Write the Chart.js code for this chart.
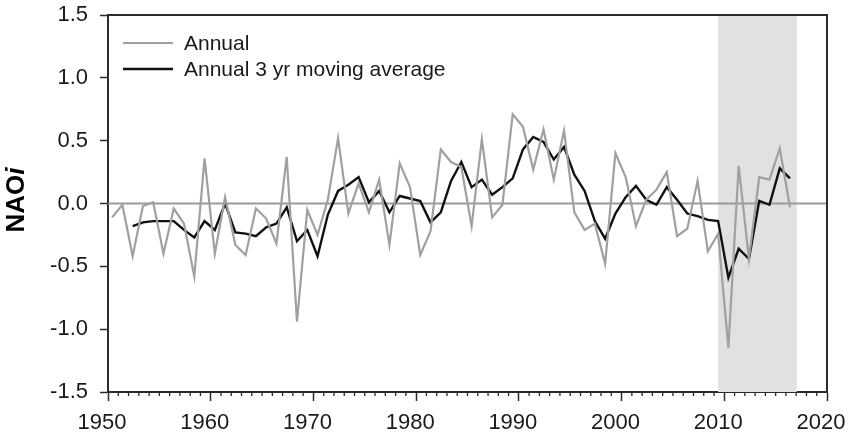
<!DOCTYPE html>
<html>
<head>
<meta charset="utf-8">
<script src="https://cdn.jsdelivr.net/npm/chart.js@4/dist/chart.umd.min.js"></script>
<style>
  body { margin: 0; background: #fff; }
  canvas { display: block; }
</style>
</head>
<body>
<canvas id="naoChart" width="850" height="442"></canvas>
<script>
// DATA
const years = [
  1950, 1951, 1952, 1953, 1954, 1955, 1956, 1957, 1958, 1959,
  1960, 1961, 1962, 1963, 1964, 1965, 1966, 1967, 1968, 1969,
  1970, 1971, 1972, 1973, 1974, 1975, 1976, 1977, 1978, 1979,
  1980, 1981, 1982, 1983, 1984, 1985, 1986, 1987, 1988, 1989,
  1990, 1991, 1992, 1993, 1994, 1995, 1996, 1997, 1998, 1999,
  2000, 2001, 2002, 2003, 2004, 2005, 2006, 2007, 2008, 2009,
  2010, 2011, 2012, 2013, 2014, 2015, 2016
];
const annual = [
  -0.11, -0.01, -0.42, -0.02, 0.01, -0.40, -0.04, -0.16, -0.58, 0.36,
  -0.40, 0.05, -0.33, -0.41, -0.04, -0.12, -0.32, 0.37, -0.94, -0.05,
  -0.25, 0.03, 0.52, -0.08, 0.16, -0.07, 0.19, -0.33, 0.32, 0.13,
  -0.41, -0.22, 0.43, 0.33, 0.29, -0.18, 0.51, -0.11, -0.01, 0.71,
  0.61, 0.27, 0.59, 0.19, 0.58, -0.07, -0.21, -0.16, -0.48, 0.40,
  0.21, -0.18, 0.03, 0.11, 0.25, -0.26, -0.20, 0.18, -0.38, -0.24,
  -1.15, 0.30, -0.44, 0.21, 0.19, 0.44, -0.03
];
const movingAvg = [
  null, null, -0.18, -0.15, -0.14, -0.14, -0.14, -0.21, -0.27, -0.14,
  -0.21, 0.00, -0.23, -0.24, -0.26, -0.19, -0.16, -0.03, -0.30, -0.21,
  -0.42, -0.09, 0.10, 0.15, 0.21, 0.01, 0.10, -0.07, 0.06, 0.04,
  0.02, -0.15, -0.07, 0.18, 0.33, 0.13, 0.19, 0.07, 0.13, 0.20,
  0.43, 0.53, 0.49, 0.35, 0.45, 0.23, 0.10, -0.14, -0.28, -0.08,
  0.05, 0.14, 0.03, -0.01, 0.13, 0.03, -0.08, -0.10, -0.13, -0.14,
  -0.59, -0.36, -0.44, 0.02, -0.01, 0.28, 0.20
];
const xTicks = [1950, 1960, 1970, 1980, 1990, 2000, 2010, 2020];
const yTicks = [-1.5, -1.0, -0.5, 0.0, 0.5, 1.0, 1.5];
const shadeYears = [2009.4, 2017.05];
const seriesLabels = ["Annual", "Annual 3 yr moving average"];

// points sit a little past the year tick in the original
const X_SHIFT = 0.4;
const FONT = "'Liberation Sans', Arial, sans-serif";
const AXIS_COLOR = "#2b2b2b";

const toPoints = (values) =>
  years.map((yr, i) => ({ x: yr + X_SHIFT, y: values[i] }));

// shaded period + zero line, drawn under the lines
const backdrop = {
  id: "backdrop",
  beforeDatasetsDraw(chart) {
    const { ctx, chartArea, scales } = chart;
    const x0 = scales.x.getPixelForValue(shadeYears[0]);
    const x1 = scales.x.getPixelForValue(shadeYears[1]);
    ctx.save();
    ctx.fillStyle = "#e1e1e1";
    ctx.fillRect(x0, chartArea.top, x1 - x0, chartArea.bottom - chartArea.top);
    const y0 = scales.y.getPixelForValue(0);
    ctx.strokeStyle = "#9a9a9a";
    ctx.lineWidth = 2;
    ctx.beginPath();
    ctx.moveTo(chartArea.left, y0);
    ctx.lineTo(chartArea.right, y0);
    ctx.stroke();
    ctx.restore();
  },
};

// frame, minor year ticks, legend and y title
const decorations = {
  id: "decorations",
  afterDraw(chart) {
    const { ctx, chartArea, scales } = chart;
    ctx.save();
    ctx.strokeStyle = AXIS_COLOR;
    ctx.lineWidth = 2;
    ctx.beginPath();
    ctx.moveTo(chartArea.left, chartArea.top);
    ctx.lineTo(chartArea.right, chartArea.top);
    ctx.lineTo(chartArea.right, chartArea.bottom);
    ctx.stroke();

    ctx.lineWidth = 1.3;
    ctx.beginPath();
    for (let yr = xTicks[0]; yr <= xTicks[xTicks.length - 1]; yr++) {
      if (yr % 10 === 0) continue;
      const x = scales.x.getPixelForValue(yr);
      ctx.moveTo(x, chartArea.bottom);
      ctx.lineTo(x, chartArea.bottom + 4);
    }
    ctx.stroke();

    // legend
    const items = chart.data.datasets;
    ctx.font = "21px " + FONT;
    ctx.textBaseline = "middle";
    ctx.fillStyle = "#1a1a1a";
    items.forEach((ds, i) => {
      const y = 43 + i * 26;
      ctx.strokeStyle = ds.borderColor;
      ctx.lineWidth = ds.borderWidth;
      ctx.beginPath();
      ctx.moveTo(123, y);
      ctx.lineTo(173, y);
      ctx.stroke();
      ctx.fillText(ds.label, 184, y + 1);
    });

    // y title "NAOi" with italic i
    ctx.translate(17, 200);
    ctx.rotate(-Math.PI / 2);
    const boldFont = "bold 26px " + FONT;
    const italFont = "italic bold 26px " + FONT;
    ctx.font = boldFont;
    const w1 = ctx.measureText("NAO").width;
    ctx.font = italFont;
    const w2 = ctx.measureText("i").width;
    const start = -(w1 + w2) / 2;
    ctx.fillStyle = "#000";
    ctx.textAlign = "left";
    ctx.font = boldFont;
    ctx.fillText("NAO", start, 0);
    ctx.font = italFont;
    ctx.fillText("i", start + w1, 0);
    ctx.restore();
  },
};

new Chart(document.getElementById("naoChart"), {
  type: "line",
  data: {
    datasets: [
      {
        label: seriesLabels[0],
        data: toPoints(annual),
        borderColor: "#a0a0a0",
        borderWidth: 2.2,
        pointRadius: 0,
        tension: 0,
      },
      {
        label: seriesLabels[1],
        data: toPoints(movingAvg),
        borderColor: "#111111",
        borderWidth: 2.4,
        pointRadius: 0,
        tension: 0,
      },
    ],
  },
  options: {
    responsive: false,
    animation: false,
    layout: { padding: { top: 15, right: 23, left: 0, bottom: 0 } },
    plugins: {
      legend: { display: false },
      tooltip: { enabled: false },
    },
    scales: {
      x: {
        type: "linear",
        min: xTicks[0],
        max: xTicks[xTicks.length - 1],
        afterBuildTicks: (scale) => {
          scale.ticks = xTicks.map((v) => ({ value: v }));
        },
        afterFit: (scale) => {
          scale.height = 50;
          scale.paddingLeft = 0;
          scale.paddingRight = 0;
        },
        ticks: {
          callback: (v) => String(v),
          font: { family: FONT, size: 22 },
          color: "#1a1a1a",
          padding: 9,
          labelOffset: -6,
          maxRotation: 0,
          autoSkip: false,
        },
        grid: {
          drawOnChartArea: false,
          drawTicks: true,
          tickLength: 9,
          tickWidth: 1.5,
          color: AXIS_COLOR,
        },
        border: { display: true, color: AXIS_COLOR, width: 2 },
      },
      y: {
        min: yTicks[0],
        max: yTicks[yTicks.length - 1],
        afterBuildTicks: (scale) => {
          scale.ticks = yTicks.map((v) => ({ value: v }));
        },
        afterFit: (scale) => {
          scale.width = 108;
          scale.paddingTop = 0;
          scale.paddingBottom = 0;
        },
        ticks: {
          callback: (v) => v.toFixed(1),
          font: { family: FONT, size: 22 },
          color: "#1a1a1a",
          padding: 12,
        },
        grid: {
          drawOnChartArea: false,
          drawTicks: true,
          tickLength: 8,
          tickWidth: 1.5,
          color: AXIS_COLOR,
        },
        border: { display: true, color: AXIS_COLOR, width: 2 },
      },
    },
  },
  plugins: [backdrop, decorations],
});
</script>
</body>
</html>
